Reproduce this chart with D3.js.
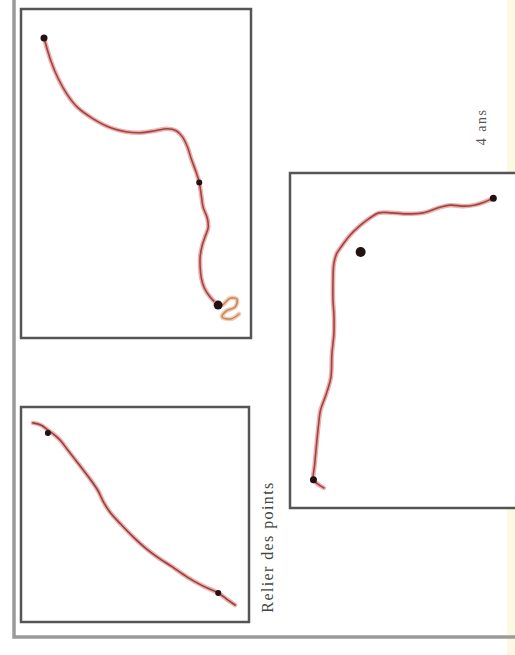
<!DOCTYPE html>
<html>
<head>
<meta charset="utf-8">
<script src="https://cdn.jsdelivr.net/npm/d3@7"></script>
<style>
  html, body { margin: 0; padding: 0; background: #fff; }
  svg { display: block; }
</style>
</head>
<body>
<div id="sheet"></div>
<script>
// traced strokes, in panel units (0..100 across, 0..100 down)
const topTrace = [
  [10.0,8.8],[13.0,15.8],[16.0,20.9],[19.9,25.8],[24.7,30.0],[31.2,33.3],[39.0,36.1],
  [45.5,37.3],[51.9,37.6],[58.4,37.0],[63.6,36.4],[67.5,37.0],[70.1,38.8],[72.3,41.8],
  [74.0,45.5],[76.2,49.7],[77.5,52.7],[78.4,56.7],[79.2,60.3],[81.0,63.6],[81.4,66.4],
  [80.1,69.1],[78.8,71.8],[77.9,75.2],[77.9,78.5],[78.4,81.8],[79.7,84.8],[82.3,87.6],
  [84.8,89.4]
];
const topCurl = [
  [84.8,89.4],[87.4,90.0],[90.9,87.9],[93.9,88.2],[93.1,90.6],[89.2,91.8],[87.4,93.6],
  [91.3,94.2],[94.8,92.7]
];
const topDots = [[10.0,8.8,3.5],[77.5,52.7,3],[85.7,90.0,4.5]];

const lowTrace = [
  [5.2,7.4],[8.7,8.4],[11.8,10.7],[15.3,13.5],[17.5,15.8],[20.5,20.0],[24.9,26.0],
  [29.3,32.1],[33.6,38.6],[36.2,44.2],[39.3,49.3],[43.7,54.4],[49.3,60.5],[54.6,65.6],
  [59.8,69.8],[66.4,74.4],[72.9,79.1],[79.9,83.3],[86.5,86.5],[90.8,89.8],[93.9,92.1]
];
const lowDots = [[11.8,12.1,3],[86.5,86.5,3]];

const rightTrace = [
  [14.7,94.0],[12.0,92.8],[10.2,91.6],[10.7,87.2],[11.6,80.6],[12.4,75.2],[13.3,70.7],
  [15.6,66.3],[17.8,60.9],[18.2,54.3],[19.1,47.8],[19.1,42.4],[18.7,37.9],[18.7,31.9],
  [19.1,26.9],[20.4,23.9],[22.2,22.1],[25.8,18.8],[29.8,16.1],[34.2,13.7],[38.7,11.9],
  [44.4,11.9],[51.1,12.2],[57.8,11.9],[60.9,11.3],[64.4,10.4],[69.8,9.6],[75.6,9.9],
  [80.0,9.6],[84.4,8.7],[88.4,7.5]
];
const rightDots = [[88.4,7.5,3.5],[30.7,23.6,5],[10.2,91.6,3.5]];

const labels = ["Relier des points", "4 ans"];

const W = 515, H = 655;
const svg = d3.select("#sheet").append("svg").attr("width", W).attr("height", H);

// pale yellow edge of the scanned page
svg.append("rect").attr("x", 507).attr("y", 0).attr("width", 8).attr("height", H)
  .attr("fill", "#fcf9e2");

// outer frame of the page
svg.append("path")
  .attr("d", "M14,0 L14,637 L515,637")
  .attr("fill", "none").attr("stroke", "#9a9a9a").attr("stroke-width", 3.5);

const line = d3.line().curve(d3.curveCatmullRom.alpha(0.5));

function panel(box, traces, dots){
  let x = d3.scaleLinear().domain([0, 100]).range([box.x, box.x + box.w]);
  let y = d3.scaleLinear().domain([0, 100]).range([box.y, box.y + box.h]);
  let g = svg.append("g");
  g.append("rect")
    .attr("x", box.x).attr("y", box.y)
    .attr("width", box.w).attr("height", box.h)
    .attr("fill", "#fff").attr("stroke", "#555").attr("stroke-width", 2.5);

  line.x(d => x(d[0])).y(d => y(d[1]));
  traces.forEach(function(t){
    g.append("path").attr("d", line(t.pts))
      .attr("fill", "none").attr("stroke", t.halo).attr("stroke-width", 4.5)
      .attr("stroke-linecap", "round").attr("stroke-linejoin", "round");
    g.append("path").attr("d", line(t.pts))
      .attr("fill", "none").attr("stroke", t.core).attr("stroke-width", 1.6)
      .attr("stroke-linecap", "round").attr("stroke-linejoin", "round");
  });

  g.selectAll(".dot")
    .data(dots)
    .enter()
    .append("circle")
    .attr("class", "dot")
    .attr("cx", d => x(d[0]))
    .attr("cy", d => y(d[1]))
    .attr("r", d => d[2])
    .attr("fill", "#221212");
}

panel({x: 21, y: 9, w: 230, h: 329},
  [{pts: topTrace, halo: "#f0aeab", core: "#9a4646"},
   {pts: topCurl, halo: "#f3cdb0", core: "#c08a66"}],
  topDots);

panel({x: 21, y: 407, w: 228, h: 215},
  [{pts: lowTrace, halo: "#f0aeab", core: "#8e4242"}],
  lowDots);

// right panel runs off the page edge
panel({x: 290, y: 173, w: 230, h: 335},
  [{pts: rightTrace, halo: "#f0aeab", core: "#9a4646"}],
  rightDots);

svg.append("text")
  .attr("transform", "translate(273,547) rotate(-90)")
  .attr("text-anchor", "middle")
  .attr("font-family", "Liberation Serif, DejaVu Serif, serif")
  .attr("font-size", 16)
  .attr("letter-spacing", 1.4)
  .attr("fill", "#444")
  .text(labels[0]);

svg.append("text")
  .attr("transform", "translate(486,127) rotate(-90)")
  .attr("text-anchor", "middle")
  .attr("font-family", "Liberation Serif, DejaVu Serif, serif")
  .attr("font-size", 14)
  .attr("letter-spacing", 1.5)
  .attr("fill", "#555")
  .text(labels[1]);
</script>
</body>
</html>
